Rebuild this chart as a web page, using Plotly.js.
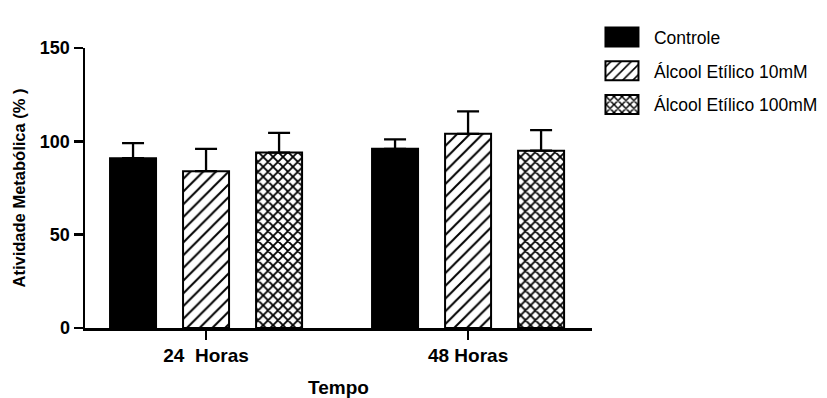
<!DOCTYPE html>
<html>
<head>
<meta charset="utf-8">
<script src="https://cdn.plot.ly/plotly-3.0.1.min.js"></script>
<style>html,body{margin:0;padding:0;background:#fff;}#chart{width:827px;height:398px;}</style>
</head>
<body>
<div id="chart"></div>
<script>
const categories = ["24\u00a0 Horas", "48 Horas"];
const seriesNames = ["Controle", "Álcool Etílico 10mM", "Álcool Etílico 100mM"];
const controle = [91, 96];
const controleErr = [8, 5];
const etanol10 = [84, 104];
const etanol10Err = [12, 12];
const etanol100 = [94, 95];
const etanol100Err = [10.5, 11];

function errBar(arr) {
  return {type: 'data', symmetric: false, array: arr, arrayminus: arr.map(() => 0),
          color: '#000', thickness: 2.3, width: 11};
}

const traces = [
  {type: 'bar', name: seriesNames[0], legendgroup: 'a', x: categories, y: controle,
   marker: {color: '#000', line: {color: '#000', width: 2}},
   error_y: errBar(controleErr)},
  {type: 'bar', name: seriesNames[1], legendgroup: 'b', x: categories, y: etanol10,
   marker: {color: '#fff', line: {color: '#000', width: 2},
            pattern: {shape: '/', fgcolor: '#000', bgcolor: '#fff', size: 9, solidity: 0.22}},
   error_y: errBar(etanol10Err)},
  {type: 'bar', name: seriesNames[2], legendgroup: 'c', x: categories, y: etanol100,
   marker: {color: '#fff', line: {color: '#000', width: 2},
            pattern: {shape: 'x', fgcolor: '#000', bgcolor: '#fff', size: 7, solidity: 0.45}},
   error_y: errBar(etanol100Err)}
];

const yTickFont = {family: 'Liberation Sans, Arial, sans-serif', size: 18, color: '#000', weight: 'bold'};
const xTickFont = {family: 'Liberation Sans, Arial, sans-serif', size: 19, color: '#000', weight: 'bold'};

const layout = {
  width: 827, height: 398,
  margin: {l: 85, r: 235, t: 48, b: 70, autoexpand: false},
  paper_bgcolor: '#fff', plot_bgcolor: '#fff',
  barmode: 'group', bargap: 0.164, bargroupgap: 0.37,
  showlegend: true,
  legend: {x: 0.996, xanchor: 'left', y: 1.103, yanchor: 'top',
           font: {family: 'Liberation Sans, Arial, sans-serif', size: 17.5, color: '#000'},
           traceorder: 'grouped', tracegroupgap: 8, itemwidth: 54, bgcolor: 'rgba(0,0,0,0)'},
  xaxis: {
    type: 'category', range: [-0.462, 1.473],
    showline: true, linecolor: '#000', linewidth: 2.5,
    ticks: 'outside', ticklen: 9, tickwidth: 2.5, tickcolor: '#000',
    showgrid: false, zeroline: false, tickfont: xTickFont,
    title: {text: 'Tempo', font: {family: 'Liberation Sans, Arial, sans-serif', size: 19, color: '#000', weight: 'bold'}, standoff: 18}
  },
  yaxis: {
    range: [0, 150], tickvals: [0, 50, 100, 150],
    showline: true, linecolor: '#000', linewidth: 2.5,
    ticks: 'outside', ticklen: 9, tickwidth: 2.5, tickcolor: '#000',
    showgrid: false, zeroline: false, tickfont: yTickFont,
    title: {text: 'Atividade Metabólica (% )', font: {family: 'Liberation Sans, Arial, sans-serif', size: 16.5, color: '#000', weight: 'bold'}, standoff: 10}
  }
};

Plotly.newPlot('chart', traces, layout, {displayModeBar: false, staticPlot: true}).then(() => {
  document.querySelectorAll('.legend .legendpoints path').forEach(p => {
    p.setAttribute('d', 'M16.5,9.5H-16.5V-9.5H16.5Z');
  });
});
</script>
</body>
</html>
